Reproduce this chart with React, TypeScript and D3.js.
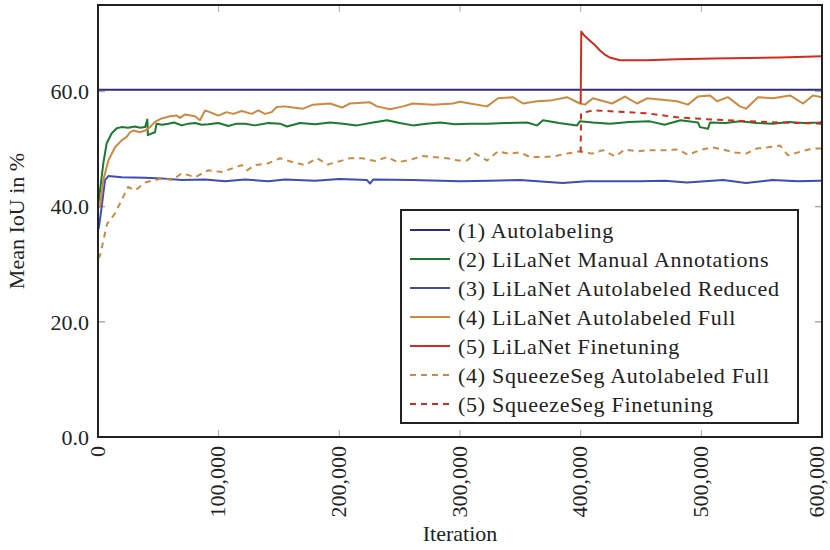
import React from 'react';
import * as d3 from 'd3';

type Pt = [number, number];

// iteration (thousands), mean IoU in %
const autolabeling: Pt[] = [[0, 60.3], [600, 60.3]];

const lilanetManual: Pt[] = [
  [0, 40.2], [1.7, 42.8], [4.4, 47.5], [7.2, 51.0], [11.3, 52.7], [15.5, 53.6], [19.6, 53.8],
  [25, 53.7], [30.7, 53.9], [35, 53.7], [39, 53.8], [40.9, 55.1], [41.3, 52.4], [44.5, 52.7],
  [47.2, 52.9], [48.6, 54.4], [53, 54.2], [58.3, 54.4], [63, 54.6], [69.4, 54.1], [75, 54.4],
  [80.4, 54.5], [86, 54.2], [91.4, 54.3], [99.7, 54.5], [108, 54.0], [115, 54.4], [121.8, 54.4],
  [130.1, 54.1], [141.1, 54.5], [150.8, 54.4], [156.6, 53.9], [167.4, 54.5], [180, 54.3],
  [192.3, 54.6], [203, 54.4], [214.6, 54.1], [228, 54.6], [239.5, 55.0], [250, 54.5], [261, 54.1],
  [272, 54.4], [283.4, 54.6], [296, 54.3], [308.3, 54.4], [322.4, 54.4], [338, 54.5],
  [355.6, 54.6], [363.8, 54.1], [368.8, 55.0], [382, 54.5], [397, 54.1], [399.3, 54.8],
  [410, 54.6], [424.3, 54.4], [440, 54.7], [457.4, 54.8], [469.5, 54.2], [482.8, 55.0],
  [497.2, 54.6], [498.9, 53.8], [505.5, 53.5], [507.2, 54.6], [520, 54.5], [532, 54.8],
  [546, 54.5], [559.4, 54.4], [572, 54.7], [585, 54.5], [598.4, 54.6], [600, 54.8],
];

const lilanetReduced: Pt[] = [
  [0, 35.9], [0.8, 36.5], [3, 39.9], [5.8, 44.6], [8.6, 45.3], [19.6, 45.1], [39, 45.0],
  [52.8, 44.9], [69.4, 44.6], [88.7, 44.7], [105.2, 44.4], [121.8, 44.7], [141.1, 44.4],
  [155, 44.7], [180, 44.5], [200, 44.8], [223, 44.6], [225.4, 44.0], [228, 44.7], [260, 44.6],
  [300, 44.4], [325, 44.5], [349.7, 44.6], [385, 44.1], [405, 44.4], [424, 44.4], [449, 44.4],
  [470, 44.5], [488, 44.2], [518, 44.6], [537, 44.1], [559, 44.6], [580, 44.4], [598, 44.5],
  [600, 44.5],
];

const lilanetFull: Pt[] = [
  [0, 40.0], [1.66, 39.9], [4.4, 44.6], [8.6, 48.0], [14.1, 50.3], [19.6, 51.5], [23.8, 52.1],
  [26.5, 52.9], [29.3, 53.2], [34.8, 52.9], [39, 53.2], [43.1, 53.8], [47.2, 54.7], [52.8, 55.3],
  [59.7, 55.7], [65.2, 55.8], [68, 55.4], [72.1, 56.0], [80.4, 55.7], [84.5, 55.0], [88.7, 56.7],
  [92.8, 56.4], [99.7, 55.8], [106.6, 56.4], [112.1, 56.1], [119.1, 56.6], [127.4, 56.1],
  [132.8, 56.7], [138.4, 56.1], [143.9, 56.4], [148.1, 57.3], [155, 57.4], [161.6, 57.2],
  [169.9, 57.0], [178.2, 57.7], [192.3, 57.9], [202.2, 57.2], [208.8, 57.9], [225.4, 58.1],
  [231.2, 57.4], [242, 56.9], [252.8, 57.4], [261, 57.9], [277.6, 57.7], [294.2, 57.9],
  [300, 58.2], [308.3, 57.9], [322.4, 57.4], [331.5, 58.8], [343.9, 59.0], [352.2, 57.9],
  [363.8, 58.3], [374.6, 58.4], [388.7, 59.0], [399.3, 57.9], [403.6, 57.7], [410.2, 58.8],
  [426, 57.9], [436.7, 59.1], [446.7, 57.9], [455, 58.8], [465.7, 58.6], [479.8, 58.3],
  [488.9, 57.7], [497.2, 59.1], [507.2, 59.3], [513, 58.3], [522, 59.0], [532, 57.4], [537, 57.0],
  [547, 59.0], [559.4, 58.8], [573.5, 59.3], [584.2, 57.9], [592.5, 59.3], [600, 59.0],
];

const lilanetFinetune: Pt[] = [
  [400, 57.9], [400.5, 70.4], [403, 69.7], [407.7, 68.8], [412, 68.0], [416, 67.1], [420, 66.4],
  [424, 65.9], [432.7, 65.4], [455, 65.4], [480, 65.6], [510, 65.7], [540, 65.8], [565, 65.9],
  [600, 66.1],
];

const squeezeFull: Pt[] = [
  [0, 31.0], [1.7, 31.5], [7.5, 37.0], [14.1, 38.8], [24.9, 43.4], [30.7, 42.8], [39, 44.2],
  [53, 44.9], [61.3, 44.6], [69.6, 45.8], [80.4, 45.1], [91.2, 46.3], [102.8, 46.0],
  [113.5, 46.8], [119.3, 47.2], [123.5, 46.3], [130.1, 47.2], [140.9, 47.5], [150.8, 48.4],
  [161.6, 47.7], [171.5, 47.2], [181.5, 48.4], [190.6, 47.3], [200.5, 47.9], [208.8, 48.4],
  [218.8, 48.4], [229.5, 47.9], [239.5, 48.6], [248.6, 47.7], [260.2, 48.2], [268.5, 48.8],
  [277.6, 48.6], [289.2, 48.4], [298.3, 48.0], [305.8, 48.0], [312.4, 49.2], [322.4, 48.0],
  [331.5, 49.6], [339.8, 49.2], [349.7, 49.4], [358, 48.6], [367.9, 48.6], [377, 48.7],
  [388.7, 49.2], [399.3, 49.6], [409.4, 49.2], [418.5, 49.8], [428.4, 48.7], [436.7, 49.9],
  [446.7, 49.6], [455.8, 49.8], [469.9, 49.8], [480.6, 49.9], [488.9, 49.0], [498.9, 49.8],
  [508.8, 50.3], [517.9, 49.9], [527.9, 49.4], [537, 49.2], [546.1, 50.1], [555.3, 50.3],
  [565.2, 50.6], [571.8, 48.9], [583.4, 49.6], [592.5, 50.1], [600, 50.1],
];

const squeezeFinetune: Pt[] = [
  [400, 49.4], [400.3, 56.2], [410, 56.7], [430, 56.5], [455, 56.2], [480, 55.5], [510, 55.1],
  [540, 54.8], [565, 54.6], [600, 54.4],
];

const xTicks = [0, 100, 200, 300, 400, 500, 600];
const yTicks = [0, 20, 40, 60];

const series = [
  { label: '(1) Autolabeling', data: autolabeling, color: '#2f2a7a', dash: '' },
  { label: '(2) LiLaNet Manual Annotations', data: lilanetManual, color: '#1b7a2f', dash: '' },
  { label: '(3) LiLaNet Autolabeled Reduced', data: lilanetReduced, color: '#3d4db6', dash: '' },
  { label: '(4) LiLaNet Autolabeled Full', data: lilanetFull, color: '#cc8a40', dash: '' },
  { label: '(5) LiLaNet Finetuning', data: lilanetFinetune, color: '#d42a1f', dash: '' },
  { label: '(4) SqueezeSeg Autolabeled Full', data: squeezeFull, color: '#cc8a40', dash: '6,5' },
  { label: '(5) SqueezeSeg Finetuning', data: squeezeFinetune, color: '#d42a1f', dash: '6,5' },
];

const W = 830;
const H = 550;
const m = { left: 98, right: 822, top: 5, bottom: 437 };
const font = '"Liberation Serif", "Times New Roman", serif';

const App: React.FC = () => {
  const x = d3.scaleLinear().domain([0, 600]).range([m.left, m.right]);
  const y = d3.scaleLinear().domain([0, 75]).range([m.bottom, m.top]);
  const line = d3.line<Pt>().x(d => x(d[0])).y(d => y(d[1]));
  const fmt = d3.format(',');

  const legX = 401;
  const legY = 210;
  const rowH = 29;

  return (
    <svg width={W} height={H} style={{ position: 'absolute', left: 0, top: 0 }} fontFamily={font}>
      <defs>
        <clipPath id="plot">
          <rect x={m.left} y={m.top} width={m.right - m.left} height={m.bottom - m.top} />
        </clipPath>
      </defs>
      <rect width={W} height={H} fill="#fff" />

      {/* ticks, inward on all sides */}
      {xTicks.slice(1, -1).map(t => (
        <g key={'xt' + t} stroke="#aaa" strokeWidth={1}>
          <line x1={x(t)} x2={x(t)} y1={m.bottom} y2={m.bottom - 7} />
          <line x1={x(t)} x2={x(t)} y1={m.top} y2={m.top + 7} />
        </g>
      ))}
      {yTicks.slice(1).map(t => (
        <g key={'yt' + t} stroke="#aaa" strokeWidth={1.5}>
          <line x1={m.left} x2={m.left + 7} y1={y(t)} y2={y(t)} />
          <line x1={m.right} x2={m.right - 7} y1={y(t)} y2={y(t)} />
        </g>
      ))}

      <g clipPath="url(#plot)" fill="none">
        {series.map(s => (
          <path key={s.label} d={line(s.data) || ''} stroke={s.color} strokeWidth={2}
            strokeDasharray={s.dash || undefined} strokeLinejoin="round" />
        ))}
      </g>

      <rect x={m.left} y={m.top} width={m.right - m.left} height={m.bottom - m.top}
        fill="none" stroke="#222" strokeWidth={2} />

      {/* tick labels */}
      {yTicks.map(t => (
        <text key={'yl' + t} x={m.left - 9} y={y(t)} dy="0.35em" textAnchor="end" fontSize={22} fill="#222">
          {t.toFixed(1)}
        </text>
      ))}
      {xTicks.map((t, i) => (
        <text key={'xl' + t} transform={`translate(${x(t)},${m.bottom + 9}) rotate(-90)`}
          dy={i === xTicks.length - 1 ? '0.1em' : '0.3em'}
          textAnchor="end" fontSize={22} fill="#222">
          {fmt(t * 1000)}
        </text>
      ))}

      <text x={(m.left + m.right) / 2} y={541} textAnchor="middle" fontSize={22} fill="#222">Iteration</text>
      <text transform={`translate(24,${(m.top + m.bottom) / 2}) rotate(-90)`} textAnchor="middle"
        fontSize={22} fill="#222">Mean IoU in %</text>

      {/* legend */}
      <rect x={legX} y={legY} width={397} height={213} fill="#fff" stroke="#222" strokeWidth={2} />
      {series.map((s, i) => (
        <g key={'lg' + i} transform={`translate(${legX},${legY + 20 + i * rowH})`}>
          <line x1={9} x2={49} y1={0} y2={0} stroke={s.color} strokeWidth={2}
            strokeDasharray={s.dash || undefined} />
          <text x={57} y={0} dy="0.35em" fontSize={22} letterSpacing={0.7} fill="#222">{s.label}</text>
        </g>
      ))}
    </svg>
  );
};

export default App;
